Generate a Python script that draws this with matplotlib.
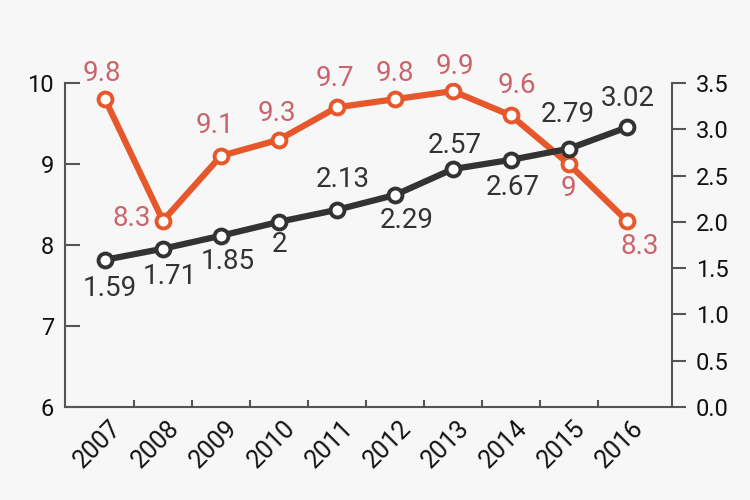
import matplotlib.pyplot as plt
import matplotlib.transforms as mtransforms

# data
years = ['2007', '2008', '2009', '2010', '2011', '2012', '2013', '2014', '2015', '2016']
orange_vals = [9.8, 8.3, 9.1, 9.3, 9.7, 9.8, 9.9, 9.6, 9.0, 8.3]
orange_text = ['9.8', '8.3', '9.1', '9.3', '9.7', '9.8', '9.9', '9.6', '9', '8.3']
dark_vals = [1.59, 1.71, 1.85, 2.0, 2.13, 2.29, 2.57, 2.67, 2.79, 3.02]
dark_text = ['1.59', '1.71', '1.85', '2', '2.13', '2.29', '2.57', '2.67', '2.79', '3.02']

# label offsets in pixels (dx, dy), dy positive = up
orange_off = [(-3, 26), (-31, 2), (-6, 30), (-2, 26), (-2, 29), (0, 26),
              (2, 25), (6, 30), (0, -24), (13, -26)]
dark_off = [(5, -29), (7, -28), (7, -26), (1, -23), (6, 30), (12, -25),
            (2, 24), (2, -28), (-1, 34), (1, 29)]

ORANGE = '#e6582b'
ORANGE_TXT = '#c9646a'
DARK = '#333333'
SPINE = '#555555'
BG = '#f8f7f8'

plt.rcParams['font.family'] = ['Roboto', 'DejaVu Sans']

fig = plt.figure(figsize=(7.5, 5), dpi=100, facecolor=BG)
ax = fig.add_axes([65 / 750, 93 / 500, 607 / 750, 324 / 500])
ax.set_facecolor(BG)
ax2 = ax.twinx()

x = list(range(len(years)))

ax.plot(x, orange_vals, color=ORANGE, lw=4.5, marker='o', ms=10,
        mfc='white', mec=ORANGE, mew=2.8, zorder=3)
ax2.plot(x, dark_vals, color=DARK, lw=4.5, marker='o', ms=10,
         mfc='white', mec=DARK, mew=2.8, zorder=3)

for xi, v, t, (dx, dy) in zip(x, orange_vals, orange_text, orange_off):
    ax.annotate(t, (xi, v), xytext=(dx, dy), textcoords='offset pixels',
                ha='center', va='center', fontsize=20, color=ORANGE_TXT)
for xi, v, t, (dx, dy) in zip(x, dark_vals, dark_text, dark_off):
    ax2.annotate(t, (xi, v), xytext=(dx, dy), textcoords='offset pixels',
                 ha='center', va='center', fontsize=20, color=DARK)

ax.set_xlim(-0.69, 9.78)
ax.set_ylim(6, 10)
ax2.set_ylim(0, 3.5)

ax.set_yticks([6, 7, 8, 9, 10])
ax2.set_yticks([0, 0.5, 1, 1.5, 2, 2.5, 3, 3.5])
ax2.set_yticklabels(['0.0', '0.5', '1.0', '1.5', '2.0', '2.5', '3.0', '3.5'])

ax.set_xticks(x)
ax.set_xticklabels([])
ax.set_xticks([i + 0.5 for i in range(len(years) - 1)], minor=True)

for s in ['top', 'right']:
    ax.spines[s].set_visible(False)
for s in ['top', 'left', 'bottom']:
    ax2.spines[s].set_visible(False)
for sp in [ax.spines['left'], ax.spines['bottom'], ax2.spines['right']]:
    sp.set_color(SPINE)
    sp.set_linewidth(1.5)

ax.tick_params(axis='y', direction='in', length=11, width=1.5, color=SPINE,
               labelsize=17, pad=8, labelcolor='#111111')
ax2.tick_params(axis='y', direction='out', length=10, width=1.5, color=SPINE,
                labelsize=17, pad=7, labelcolor='#111111')
ax.tick_params(axis='x', which='major', length=0)
ax.tick_params(axis='x', which='minor', direction='in', length=5, width=1.5,
               color=SPINE)

# rotated year labels, anchored at their right end just below the axis
offset = mtransforms.ScaledTranslation(13 / 100, -17 / 100, fig.dpi_scale_trans)
for xi, yr in zip(x, years):
    ax.text(xi, 0, yr, transform=ax.get_xaxis_transform() + offset,
            rotation=45, ha='right', va='center', rotation_mode='anchor',
            fontsize=18, color='#111111', clip_on=False)

fig.savefig('out.png', dpi=100, facecolor=BG)
